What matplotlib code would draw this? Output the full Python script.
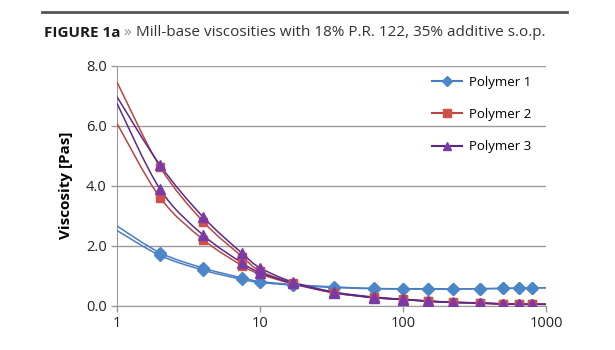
"""
Mill-base viscosity curves (Figure 1a) redrawn with matplotlib.
"""

import numpy as np
import matplotlib
matplotlib.use("Agg")
import matplotlib.pyplot as plt
from matplotlib.lines import Line2D
from matplotlib.path import Path
from matplotlib.patches import PathPatch

plt.rcParams["font.family"] = ["Open Sans", "DejaVu Sans"]

# shear rate [1/s]; the first and last points only carry the line, no marker
shear = [1, 2, 4, 7.5, 10, 17, 33, 63, 100, 150, 225, 345, 500, 650, 800, 1000]

# two measurement runs per polymer (upper / lower curve)
polymer1_a = [2.65, 1.76, 1.25, 0.92, 0.80, 0.70, 0.62, 0.57, 0.56, 0.56, 0.55, 0.56, 0.57, 0.58, 0.59, 0.59]
polymer1_b = [2.50, 1.67, 1.18, 0.87, 0.77, 0.68, 0.60, 0.56, 0.55, 0.55, 0.55, 0.56, 0.57, 0.58, 0.59, 0.59]
polymer2_a = [7.45, 4.62, 2.80, 1.63, 1.15, 0.75, 0.43, 0.27, 0.21, 0.15, 0.11, 0.09, 0.06, 0.05, 0.05, 0.04]
polymer2_b = [6.07, 3.60, 2.20, 1.33, 1.05, 0.72, 0.42, 0.26, 0.20, 0.14, 0.10, 0.08, 0.05, 0.05, 0.05, 0.04]
polymer3_a = [6.96, 4.68, 2.95, 1.74, 1.26, 0.78, 0.45, 0.28, 0.21, 0.15, 0.11, 0.08, 0.05, 0.04, 0.04, 0.04]
polymer3_b = [6.74, 3.88, 2.35, 1.42, 1.10, 0.74, 0.43, 0.26, 0.20, 0.14, 0.10, 0.08, 0.05, 0.04, 0.04, 0.04]

labels = ["Polymer 1", "Polymer 2", "Polymer 3"]
y_ticks = [0, 2, 4, 6, 8]
x_ticks = [1, 10, 100, 1000]


def smooth_path(xs, ys):
    """Excel-like smoothed line: Catmull-Rom segments as cubic Beziers in log-x space."""
    lx = np.log10(xs)
    ys = np.asarray(ys, dtype=float)
    n = len(lx)
    verts = [(xs[0], ys[0])]
    codes = [Path.MOVETO]
    for i in range(n - 1):
        i0, i3 = max(i - 1, 0), min(i + 2, n - 1)
        c1 = (lx[i] + (lx[i + 1] - lx[i0]) / 6, ys[i] + (ys[i + 1] - ys[i0]) / 6)
        c2 = (lx[i + 1] - (lx[i3] - lx[i]) / 6, ys[i + 1] - (ys[i3] - ys[i]) / 6)
        verts += [(10 ** c1[0], c1[1]), (10 ** c2[0], c2[1]), (xs[i + 1], ys[i + 1])]
        codes += [Path.CURVE4] * 3
    return Path(verts, codes)


fig = plt.figure(figsize=(6.15, 3.5), dpi=100)
ax = fig.add_axes([0.1902, 0.1271, 0.6976, 0.6857])

series = [
    (polymer1_a, "#4a7cc0", "#4a86c8", "D", 6),
    (polymer1_b, "#4a7cc0", "#4a86c8", "D", 6),
    (polymer2_a, "#b8473f", "#d0504a", "s", 6),
    (polymer2_b, "#b8473f", "#d0504a", "s", 6),
    (polymer3_a, "#5a2a8a", "#7a3aa8", "^", 7),
    (polymer3_b, "#5a2a8a", "#7a3aa8", "^", 7),
]
for vals, line_col, mark_col, marker, ms in series:
    ax.add_patch(PathPatch(smooth_path(shear, vals), facecolor="none",
                           edgecolor=line_col, lw=1.1, zorder=3))
    ax.plot(shear[1:-1], vals[1:-1], ls="none", marker=marker, ms=ms,
            color=mark_col, mec=mark_col, zorder=4)

ax.set_xscale("log")
ax.set_xlim(1, 1000)
ax.set_ylim(0, 8)
ax.set_yticks(y_ticks)
ax.set_yticklabels([f"{v:.1f}" for v in y_ticks])
ax.set_xticks(x_ticks)
ax.set_xticklabels([str(v) for v in x_ticks])
ax.xaxis.set_minor_locator(matplotlib.ticker.NullLocator())
ax.tick_params(labelsize=10.5, labelcolor="#222222", length=4, width=1,
               color="#999999")
ax.grid(axis="y", color="#9a9a9a", lw=1)
ax.set_axisbelow(True)
for side in ("top", "right"):
    ax.spines[side].set_visible(False)
for side in ("left", "bottom"):
    ax.spines[side].set_color("#999999")
ax.set_ylabel("Viscosity [Pas]", fontsize=11, fontweight="bold", labelpad=9)

handles = [
    Line2D([], [], color="#4a7cc0", marker="D", ms=5, mfc="#4a86c8", mec="#4a86c8"),
    Line2D([], [], color="#b8473f", marker="s", ms=5.5, mfc="#d0504a", mec="#d0504a"),
    Line2D([], [], color="#5a2a8a", marker="^", ms=6, mfc="#7a3aa8", mec="#7a3aa8"),
]
fig.legend(handles, labels, loc="upper left", bbox_to_anchor=(0.683, 0.817),
           frameon=False, fontsize=9.5, labelspacing=1.45, handlelength=2.3,
           handletextpad=0.5)

# header: rule and caption
fig.add_artist(Line2D([0.068, 0.922], [0.966, 0.966], color="#555555", lw=2))
t1 = fig.text(0.0715, 0.894, "FIGURE 1a", fontsize=11, fontweight="bold",
              color="#1a1a1a", va="baseline")
arr = ax.annotate(" \u00bb ", xy=(1, 0), xycoords=t1, fontsize=11,
                  color="#8a8a8a", va="bottom", ha="left",
                  annotation_clip=False)
ax.annotate("Mill-base viscosities with 18% P.R. 122, 35% additive s.o.p.",
            xy=(1, 0), xycoords=arr, fontsize=11, color="#333333",
            va="bottom", ha="left", annotation_clip=False)

fig.savefig("out.png", dpi=100)
